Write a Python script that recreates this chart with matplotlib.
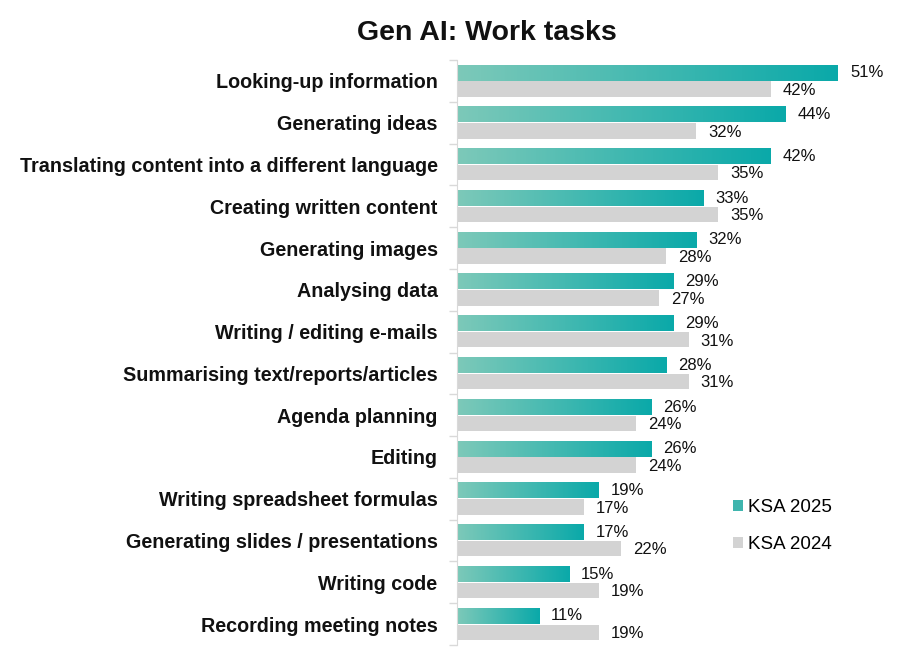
import numpy as np
import matplotlib
matplotlib.use("Agg")
import matplotlib.pyplot as plt
from matplotlib.colors import LinearSegmentedColormap
from matplotlib.patches import Patch

# --- data ---
categories = [
    "Looking-up information",
    "Generating ideas",
    "Translating content into a different language",
    "Creating written content",
    "Generating images",
    "Analysing data",
    "Writing / editing e-mails",
    "Summarising text/reports/articles",
    "Agenda planning",
    "Editing",
    "Writing spreadsheet formulas",
    "Generating slides / presentations",
    "Writing code",
    "Recording meeting notes",
]
ksa_2025 = [51, 44, 42, 33, 32, 29, 29, 28, 26, 26, 19, 17, 15, 11]
ksa_2024 = [42, 32, 35, 35, 28, 27, 31, 31, 24, 24, 17, 22, 19, 19]

plt.rcParams['font.family'] = ['Liberation Sans', 'DejaVu Sans']

teal_cmap = LinearSegmentedColormap.from_list("teal", ["#7dc9b9", "#0aa9a9"])
grey = "#d3d3d3"

fig = plt.figure(figsize=(9, 6.67), dpi=100)
ax = fig.add_axes([457 / 900, 0.033, (885 - 457) / 900, 0.877])

n = len(categories)
y = np.arange(n)
h = 0.37
off = 0.195

# grey bars (2024)
ax.barh(y + off, ksa_2024, height=h, color=grey, zorder=2)

# teal gradient bars (2025): gradient image clipped to the bar extent
grad = np.linspace(0, 1, 256).reshape(1, -1)
for yi, v in zip(y, ksa_2025):
    ax.imshow(grad, cmap=teal_cmap, aspect='auto', interpolation='bicubic',
              extent=[0, v, yi - off + h / 2, yi - off - h / 2], zorder=2)

for yi, v in zip(y, ksa_2025):
    ax.text(v + 1.6, yi - off, f"{v}%", va='center', ha='left', fontsize=12, color='#111111')
for yi, v in zip(y, ksa_2024):
    ax.text(v + 1.6, yi + off + 0.03, f"{v}%", va='center', ha='left', fontsize=12, color='#111111')

scale = 381 / 51  # px per percent
ax.set_xlim(0, (885 - 457) / scale)
ax.set_ylim(n - 0.5, -0.5)

ax.set_yticks(y)
ax.set_yticklabels(categories, fontsize=14.2, fontweight='bold', color='#111111')
ax.tick_params(axis='y', which='major', length=0, pad=14)
ax.set_yticks(np.arange(-0.5, n, 1), minor=True)
ax.tick_params(axis='y', which='minor', length=6, color='#d9d9d9', width=1)
ax.set_xticks([])

for s in ['top', 'right', 'bottom']:
    ax.spines[s].set_visible(False)
ax.spines['left'].set_color('#d9d9d9')
ax.spines['left'].set_zorder(3)

handles = [Patch(facecolor="#3fb5ae", label="KSA 2025"), Patch(facecolor=grey, label="KSA 2024")]
fig.legend(handles=handles, loc='center left', bbox_to_anchor=(716 / 900, 1 - 526 / 667),
           frameon=False, fontsize=13.5, handlelength=0.55, handleheight=0.55,
           handletextpad=0.25, labelspacing=1.05)

fig.text(487 / 900, 1 - 33 / 667, "Gen AI: Work tasks", ha='center', va='center',
         fontsize=20.5, fontweight='bold', color='#111111')

fig.savefig("out.png", dpi=100, facecolor='white')
